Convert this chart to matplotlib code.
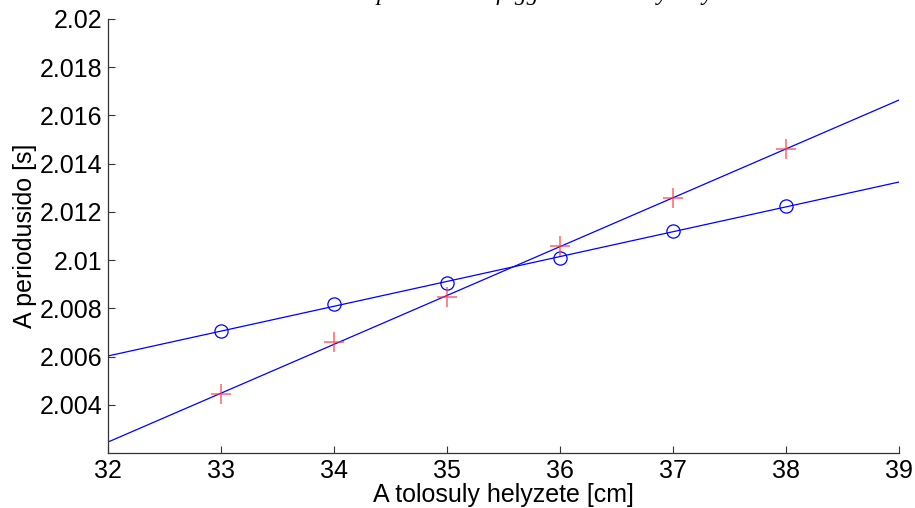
import numpy as np
import matplotlib
matplotlib.use("Agg")
import matplotlib.pyplot as plt

# positions of the sliding weight [cm]
position_cm = [33, 34, 35, 36, 37, 38]
# measured periods [s]
period_circle = [2.00705, 2.00817, 2.00905, 2.01008, 2.0112, 2.01224]
period_plus = [2.00444, 2.0066, 2.00847, 2.01058, 2.01257, 2.01462]

x_limits = [32, 39]
x_ticks = [32, 33, 34, 35, 36, 37, 38, 39]
y_ticks = [2.004, 2.006, 2.008, 2.01, 2.012, 2.014, 2.016, 2.018, 2.02]
y_tick_labels = ["2.004", "2.006", "2.008", "2.01", "2.012", "2.014", "2.016", "2.018", "2.02"]

title_text = "A periodusido fuggese a tolosuly helyzetetol"
x_label = "A tolosuly helyzete [cm]"
y_label = "A periodusido [s]"

plt.rcParams["font.family"] = ["Liberation Sans", "DejaVu Sans"]

fig = plt.figure(figsize=(9.15, 5.08), dpi=100)
ax = fig.add_axes([108 / 915, 1 - 453 / 508, (899 - 108) / 915, (453 - 19) / 508])

# least-squares lines over the full x range
xs = np.array(x_limits, dtype=float)
for vals in (period_circle, period_plus):
    k, b = np.polyfit(position_cm, vals, 1)
    ax.plot(xs, k * xs + b, color="#0000ff", linewidth=0.9, zorder=2)

ax.plot(position_cm, period_circle, linestyle="none", marker="o", markersize=9.5,
        markerfacecolor="none", markeredgecolor="#0000ff", markeredgewidth=0.9, zorder=3)
ax.plot(position_cm, period_plus, linestyle="none", marker="+", markersize=15,
        markeredgecolor="#ff3333", markeredgewidth=1.1, alpha=0.75, zorder=3)

ax.set_xlim(*x_limits)
ax.set_ylim(2.002, 2.02)
ax.set_xticks(x_ticks)
ax.set_yticks(y_ticks)
ax.set_yticklabels(y_tick_labels)

for side in ("top", "right"):
    ax.spines[side].set_visible(False)
for side in ("left", "bottom"):
    ax.spines[side].set_color("#333333")
    ax.spines[side].set_linewidth(0.9)
ax.tick_params(direction="in", length=5, width=0.8, color="#333333", labelsize=18, pad=4)

ax.set_xlabel(x_label, fontsize=18, labelpad=0)
ax.set_ylabel(y_label, fontsize=18, labelpad=2)

fig.text(0.39, 1.0, title_text, fontsize=17, fontstyle="italic",
         family=["Liberation Serif", "DejaVu Serif"], ha="left", va="baseline")

fig.savefig("out.png", dpi=100)
